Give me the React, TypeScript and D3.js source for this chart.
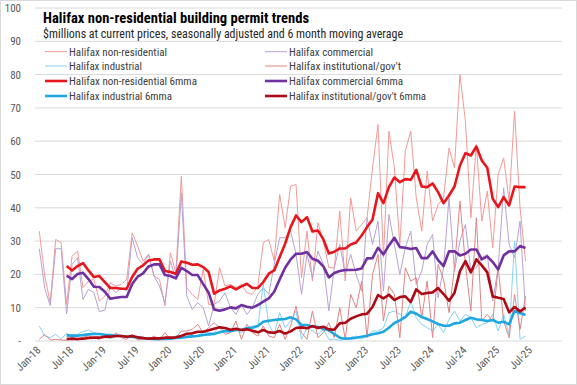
import * as d3 from "d3";

// monthly, Jan-18 .. Jun-25 ($ millions)
const nonRes = [
  33, 19.5, 11.5, 30.5, 29.5, 11, 25.5, 27, 16, 18, 18.5, 12,
  13.5, 17.5, 16.5, 17, 18.5, 32.5, 28.5, 24, 26, 19.5, 18.5, 10.5,
  26.5, 20.5, 49.5, 16, 14, 12.5, 21.5, 11, 11, 22, 16.5, 17,
  16, 17, 14.5, 14, 16.5, 29.5, 30.5, 24, 44, 34, 46.5, 47,
  19, 33, 18, 35.5, 30, 22, 22, 39, 18, 43, 33, 35,
  37, 52, 65, 25, 63, 52, 29, 57, 63, 43, 33, 51,
  36, 41, 43, 58, 52, 80, 66, 37, 59, 36, 45, 28,
  50, 55, 42, 69, 40, 24,
];
const commercial = [
  27.7, 15.8, 10.6, 27.7, 27.7, 8.1, 23, 25, 12.5, 15.5, 14.5, 8.8,
  9.3, 16.5, 14.5, 16, 15, 31, 25, 23, 26, 19.5, 16.5, 11.5,
  24, 18.5, 44.5, 13.5, 9.5, 11.5, 10, 4.5, 11, 12, 14.5, 10,
  8, 11, 8, 10, 14, 16, 14, 23, 31, 31, 33, 26,
  14, 26, 19, 27, 23, 9, 22, 29, 20, 26, 20, 15,
  37, 29, 36, 15, 38, 29, 20, 28, 33, 17, 21, 29,
  32, 13, 22, 43, 21, 30, 35, 21, 22, 25, 26, 12,
  22, 46, 29, 25, 36, 9,
];
const industrial = [
  4.5, 1.5, 1, 2, 0.5, 2.3, 1.5, 2, 2.8, 3.3, 2.5, 2.2,
  1, 0.8, 1.2, 1.5, 1.2, 1.5, 0.5, 0.5, 1, 0.3, 0.3, 1,
  0.8, 1.5, 1.5, 1.8, 1.4, 1.8, 2.5, 2.5, 2.5, 4.5, 2.8, 3,
  3.5, 2.5, 4, 4.5, 4.5, 17, 5, 2, 8.5, 4, 6, 9,
  0.5, 4, 3, 2, 3.5, 0.5, 0.5, 0.2, 0.5, 1, 1.5, 0.5,
  1.5, 3, 3, 4, 8.5, 9, 8, 7, 12, 7, 5, 4,
  3, 5, 2.5, 6.5, 9, 6, 8, 7, 4, 5, 5.5, 8,
  3, 8, 2, 30, 0.5, 1.5,
];
const institutional = [
  0.5, 2, 0.3, 0.5, 0.3, 0.2, 1, 0.2, 1.2, 1.5, 1, 0.5,
  2, 0.8, 2.5, 1, 0.5, 2, 0.3, 0.5, 0.5, 1.5, 0.5, 2.5,
  0.5, 1, 3, 3, 3.5, 5, 2.5, 4, 5.5, 4, 2, 2.5,
  6, 0.5, 5, 2.5, 1.5, 4.5, 1.5, 1, 5, 0.5, 4.5, 10.5,
  2.5, 0.5, 9, 1, 2.5, 5.5, 1, 10, 0.5, 14, 10, 18,
  1, 20, 26, 6, 16.5, 14, 1, 22, 18, 19, 7, 18,
  1, 23, 18.5, 8.5, 22, 42, 23, 9, 37, 6, 8, 6,
  22, 6, 1, 14, 3.5, 13.5,
];

// 6 month moving averages, Jun-18 .. Jun-25
const maStart = 5;
const nonRes6 = [
  22.5, 21.2, 22.5, 23.4, 21.2, 19.2, 19.5, 17.7, 15.9, 15.9, 15.7, 15.7,
  19.2, 21.7, 22.7, 24.2, 24.5, 24.5, 21, 20.7, 20.2, 23.9, 23.5, 22.9,
  23, 22.2, 20.7, 14.2, 15.2, 15.7, 16.4, 15.5, 16.4, 17.2, 15.9, 15.9,
  17.7, 20.2, 21.2, 25.2, 29.2, 34.2, 37.7, 35.7, 37.2, 32.9, 33.2, 30.5,
  26.3, 26.8, 27.8, 27.8, 29, 29.6, 31.7, 34.2, 36.5, 44.4, 41.4, 46.2,
  49.1, 47.7, 48.6, 48.4, 51.4, 46.4, 46.2, 47.3, 44.7, 41.4, 43.7, 46.4,
  52.7, 56.4, 55.7, 58.4, 54.2, 52, 42.7, 40.2, 43.2, 40.7, 46.4, 46.2, 46.2,
];
const commercial6 = [
  19.6, 18.6, 20.1, 20.5, 18.6, 16.3, 16.2, 14.8, 12.7, 13, 13.2, 13.2,
  17.1, 19.3, 20.3, 22.4, 23, 23, 19.8, 19.5, 18.8, 22, 21, 19.8,
  19.8, 17.1, 14.5, 9.5, 9.1, 9.5, 10.1, 9.8, 10.8, 10.3, 10, 10.8,
  11.8, 12.8, 14.8, 18.5, 22, 24.5, 26.2, 26.2, 26.7, 24.7, 24.1, 22.4,
  19.1, 20.4, 21, 21.3, 21.3, 21.4, 21.8, 24.8, 24.9, 28, 26, 28.7,
  31, 28.2, 28, 27.6, 27.9, 24.9, 24.9, 26.9, 24.3, 22.5, 26.9, 26.9,
  25.7, 26.2, 27.5, 27.5, 24.5, 25.4, 23.7, 21.5, 25.7, 26.9, 26.9, 28.5, 27.9,
];
const industrial6 = [
  1.7, 1.6, 1.6, 1.8, 2, 2.1, 2.1, 1.9, 1.8, 1.6, 1.5, 1.3,
  1.2, 1.1, 0.9, 0.7, 0.6, 0.6, 0.6, 0.7, 0.9, 1, 1.2, 1.4,
  1.5, 1.8, 2, 2.1, 2.6, 3, 2.9, 3.3, 3.4, 3.8, 4, 4.5,
  5.8, 6.1, 6.3, 6.5, 6.6, 7.1, 6.5, 4.8, 4.8, 4.3, 4.3, 3.6,
  3.2, 2.1, 1, 0.7, 0.8, 1, 1.3, 1.6, 2, 2.3, 2.8, 4,
  5.4, 6.2, 7.2, 8.8, 8.2, 7.2, 6.6, 5.9, 5.1, 4.6, 4.6, 5.3,
  5.5, 6.3, 7, 6.5, 6.3, 6, 6.3, 5.5, 5.8, 5, 9, 8.4, 7.8,
];
const institutional6 = [
  0.6, 0.7, 0.6, 0.7, 0.9, 1, 1, 1.3, 1.3, 1.5, 1.5, 1.3,
  1.5, 1.1, 0.9, 0.7, 0.8, 0.8, 1, 1, 1.1, 1.5, 2.2, 2.3,
  2.8, 2.8, 3.2, 3.7, 4.1, 3.9, 3.4, 3.7, 3.3, 3.5, 3.1, 2.6,
  3.3, 2.6, 2.5, 3, 2.2, 2.9, 3.9, 4.1, 3.8, 4.5, 3.9, 4.3,
  3.5, 3.4, 5.3, 5.5, 6.7, 7.4, 8, 8.2, 10.2, 13.8, 12.8, 13.9,
  12.3, 13.2, 13.4, 11.7, 15.5, 14.1, 14.4, 14.6, 15.9, 14.1, 12.1, 14.4,
  21, 24, 20.6, 24.5, 22.7, 20.6, 13.4, 13, 12.6, 8.6, 10.2, 8.9, 10,
];

const tickLabels = [
  "Jan-18", "Jul-18", "Jan-19", "Jul-19", "Jan-20", "Jul-20", "Jan-21", "Jul-21",
  "Jan-22", "Jul-22", "Jan-23", "Jul-23", "Jan-24", "Jul-24", "Jan-25", "Jul-25",
];
const yTicks = [0, 10, 20, 30, 40, 50, 60, 70, 80, 90, 100];

const FONT = "'Liberation Sans Narrow', 'Arial Narrow', 'Roboto Condensed', sans-serif";

const series = [
  { name: "Halifax non-residential", values: nonRes, start: 0, color: "#f29a97", width: 1 },
  { name: "Halifax commercial", values: commercial, start: 0, color: "#b7a2d4", width: 1 },
  { name: "Halifax industrial", values: industrial, start: 0, color: "#86d2f0", width: 1 },
  { name: "Halifax institutional/gov't", values: institutional, start: 0, color: "#df8585", width: 1 },
  { name: "Halifax non-residential 6mma", values: nonRes6, start: maStart, color: "#e8161c", width: 2.6 },
  { name: "Halifax commercial 6mma", values: commercial6, start: maStart, color: "#7030a0", width: 2.6 },
  { name: "Halifax industrial 6mma", values: industrial6, start: maStart, color: "#1ea7e1", width: 2.6 },
  { name: "Halifax institutional/gov't 6mma", values: institutional6, start: maStart, color: "#ad0a16", width: 2.6 },
];
// legend label widths as measured in the reference
const legendWidths = [98, 84, 73, 112, 128, 114, 103, 137];

export default function App() {
  const x = d3.scaleLinear().domain([0, 89]).range([39.3, 525.5]);
  const y = d3.scaleLinear().domain([0, 100]).range([341, 8]);
  const left = 35;
  const right = 562;

  const line = (start: number) =>
    d3
      .line<number>()
      .x((_, i) => x(i + start))
      .y((d) => y(d));

  return (
    <svg
      width={577}
      height={385}
      style={{ position: "absolute", left: 0, top: 0, background: "#fff" }}
      fontFamily={FONT}
    >
      <rect x={0.5} y={0.5} width={576} height={384} fill="#fff" stroke="#d9d9d9" />

      {yTicks.map((t) => (
        <g key={t}>
          <line x1={left} x2={right} y1={y(t)} y2={y(t)} stroke="#d9d9d9" strokeWidth={1} />
          <text x={21} y={y(t) + 4} textAnchor="end" fontSize={11} fill="#595959">
            {t === 0 ? "-" : t}
          </text>
        </g>
      ))}

      {tickLabels.map((lab, k) => {
        const tx = x(k * 6) + 2;
        return (
          <text
            key={lab}
            transform={`translate(${tx},351) rotate(-45)`}
            textAnchor="end"
            fontSize={11}
            fill="#595959"
          >
            {lab}
          </text>
        );
      })}

      {series.map((s) => (
        <path
          key={s.name}
          d={line(s.start)(s.values) ?? ""}
          fill="none"
          stroke={s.color}
          strokeWidth={s.width}
          strokeLinejoin="round"
        />
      ))}

      <text x={43} y={23} fontSize={14} fontWeight="bold" fill="#000" textLength={266} lengthAdjust="spacingAndGlyphs">
        Halifax non-residential  building permit trends
      </text>
      <text x={43} y={37.5} fontSize={12.5} fill="#262626" textLength={360} lengthAdjust="spacingAndGlyphs">
        $millions at current prices, seasonally adjusted and 6 month moving average
      </text>

      {series.map((s, k) => {
        const col = k % 2;
        const row = Math.floor(k / 2);
        const ly = [51.7, 66, 81, 96][row];
        const lx = col === 0 ? 45 : 265;
        return (
          <g key={"lg" + s.name}>
            <line x1={lx} x2={lx + 22} y1={ly} y2={ly} stroke={s.color} strokeWidth={s.width} />
            <text
              x={lx + 24}
              y={ly + 4}
              fontSize={11.5}
              fill="#404040"
              textLength={legendWidths[k]}
              lengthAdjust="spacingAndGlyphs"
            >
              {s.name}
            </text>
          </g>
        );
      })}
    </svg>
  );
}
